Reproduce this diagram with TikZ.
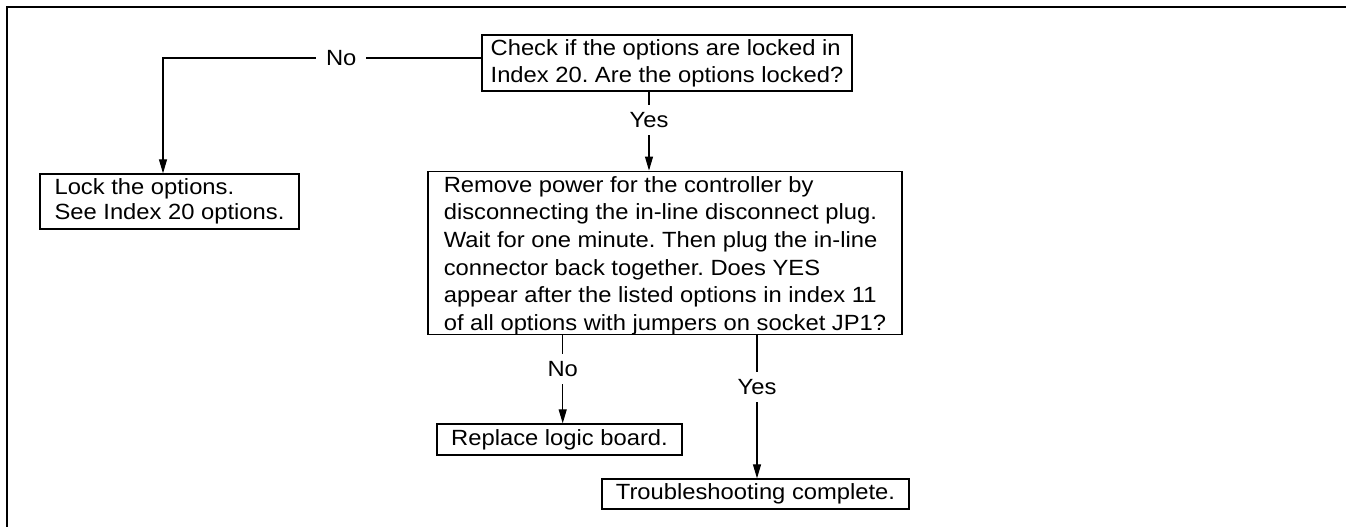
\documentclass[tikz,border=0pt]{standalone}
\usepackage{fontspec}
\setmainfont{Liberation Sans}[FakeStretch=1.08]
\usetikzlibrary{arrows.meta}
\frenchspacing
\begin{document}
\begin{tikzpicture}[x=1pt,y=-1pt,
  box/.style={draw, line width=1.3pt, inner sep=0pt, align=left},
  arr/.style={line width=1.1pt, -{Triangle[length=14pt,width=8pt]}},
  lbl/.style={fill=white, inner xsep=10pt, inner ysep=7pt, font=\fontsize{22}{26}\selectfont}]
\useasboundingbox (0,0) rectangle (1346,527);
% outer frame (top and left edges)
\draw[line width=2.6pt] (7,527) -- (7,7) -- (1346,7);

% decision and action boxes
\node[box, minimum width=370pt, minimum height=56pt,
      font=\fontsize{22}{26.7}\selectfont] (q1) at (667,63)
  {Check if the options are locked in\\Index 20. Are the options locked?};
\node[box, minimum width=259pt, minimum height=55pt,
      font=\fontsize{22}{25}\selectfont] (lock) at (169.5,201.5)
  {Lock the options.\\See Index 20 options.};
\node[box, minimum width=474pt, minimum height=162pt,
      font=\fontsize{22}{27.6}\selectfont] (q2) at (665,253)
  {\rule{0pt}{21pt}Remove power for the controller by\\
   disconnecting the in-line disconnect plug.\\
   Wait for one minute. Then plug the in-line\\
   connector back together. Does YES\\
   appear after the listed options in index 11\\
   of all options with jumpers on socket JP1?};
\node[box, minimum width=245pt, minimum height=31pt,
      font=\fontsize{22}{26}\selectfont] (repl) at (559.5,439.5)
  {Replace logic board.};
\node[box, minimum width=307pt, minimum height=30pt,
      font=\fontsize{22}{26}\selectfont] (done) at (755.5,494)
  {Troubleshooting complete.};

% connectors
\coordinate (c1) at (163,58);
\draw[arr] ([yshift=5pt]q1.west) -- node[lbl, pos=0.44]{No} (c1) -- (c1 |- lock.north);
\draw[arr] ([xshift=-18pt]q1.south) -- node[lbl, pos=0.36]{Yes}
           ([xshift=-18pt]q1.south |- q2.north);
\draw[arr] ([xshift=-102.3pt]q2.south) -- node[lbl, pos=0.38]{No}
           ([xshift=-102.3pt]q2.south |- repl.north);
\draw[arr] ([xshift=92pt]q2.south) -- node[lbl, pos=0.36]{Yes}
           ([xshift=92pt]q2.south |- done.north);
\end{tikzpicture}
\end{document}
